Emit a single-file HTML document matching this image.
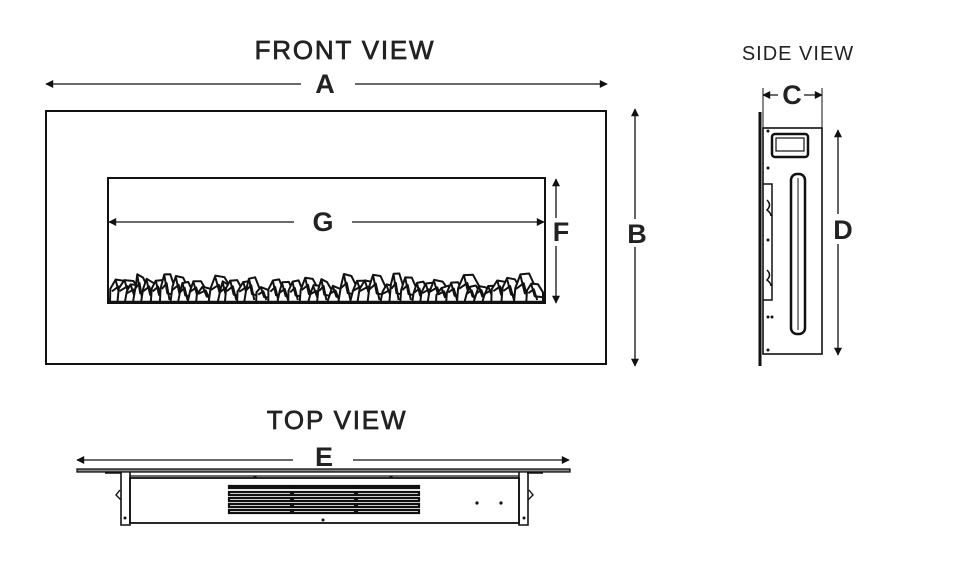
<!DOCTYPE html>
<html><head><meta charset="utf-8"><style>
html,body{margin:0;padding:0;background:#fff;}
svg{display:block;}
text{font-family:"Liberation Sans",sans-serif;fill:#222;}
.t{stroke:#222;stroke-width:0.7;}
</style></head><body>
<svg id="s" width="958" height="572" viewBox="0 0 958 572" xmlns="http://www.w3.org/2000/svg">
<defs>
<marker id="ah" viewBox="0 0 10 10" refX="9" refY="5" markerWidth="12" markerHeight="8" orient="auto-start-reverse" markerUnits="userSpaceOnUse"><path d="M0,0 L10,5 L0,10 z" fill="#111"/></marker>
</defs>
<g stroke="#111" fill="none">
<!-- Front view -->
<line x1="46" y1="84" x2="607" y2="84" stroke-width="1.3" marker-start="url(#ah)" marker-end="url(#ah)"/>
<rect x="301" y="70" width="54" height="28" fill="#fff" stroke="none"/>
<rect x="46" y="111" width="560" height="253" stroke-width="2"/>
<rect x="108" y="178" width="437" height="125" stroke-width="2"/>
<line x1="109" y1="222" x2="544" y2="222" stroke-width="1.3" marker-start="url(#ah)" marker-end="url(#ah)"/>
<rect x="294" y="208" width="58" height="28" fill="#fff" stroke="none"/>
<line x1="556" y1="179" x2="556" y2="303" stroke-width="1.3" marker-start="url(#ah)" marker-end="url(#ah)"/>
<rect x="548" y="218" width="18" height="28" fill="#fff" stroke="none"/>
<line x1="635" y1="109" x2="635" y2="366" stroke-width="1.3" marker-start="url(#ah)" marker-end="url(#ah)"/>
<rect x="625" y="219" width="22" height="28" fill="#fff" stroke="none"/>
<g id="rocks" stroke-width="2" stroke-linejoin="round"></g>
<line x1="108" y1="302" x2="545" y2="302" stroke-width="2.5"/>

<!-- Side view -->
<line x1="763" y1="95" x2="822" y2="95" stroke-width="1.3" marker-start="url(#ah)" marker-end="url(#ah)"/>
<rect x="778" y="82" width="26" height="26" fill="#fff" stroke="none"/>
<line x1="763" y1="88" x2="763" y2="128" stroke-width="1"/>
<line x1="822" y1="88" x2="822" y2="128" stroke-width="1"/>
<line x1="760" y1="112" x2="760" y2="366" stroke-width="3"/>
<rect x="763" y="128" width="59" height="226" stroke-width="1.6"/>
<rect x="772" y="134" width="36" height="23" rx="3" stroke-width="2.5"/>
<rect x="776" y="138" width="28" height="13" stroke-width="1.2"/>
<rect x="791" y="174" width="14" height="160" rx="6" stroke-width="2.5"/>
<line x1="798" y1="178" x2="798" y2="330" stroke-width="1"/>
<path d="M763 184 L772 184 L772 300 L763 300" stroke-width="1.5"/>
<path d="M767 200 q5 5 0 10 q4 3 4 6" stroke-width="1.5"/>
<path d="M767 270 q5 5 0 10 q4 3 4 6" stroke-width="1.5"/>
<line x1="838" y1="130" x2="838" y2="355" stroke-width="1.3" marker-start="url(#ah)" marker-end="url(#ah)"/>
<rect x="828" y="214" width="22" height="30" fill="#fff" stroke="none"/>

<!-- Top view -->
<line x1="77" y1="460" x2="569" y2="460" stroke-width="1.3" marker-start="url(#ah)" marker-end="url(#ah)"/>
<rect x="293" y="446" width="60" height="28" fill="#fff" stroke="none"/>
<rect x="77" y="469" width="493" height="3" fill="#888" stroke-width="1.3"/>
<line x1="105" y1="473" x2="121" y2="473" stroke-width="1.5"/>
<line x1="527" y1="473" x2="543" y2="473" stroke-width="1.5"/>
<path d="M121 472 L121 525 L130 525 L130 472" stroke-width="1.6"/>
<path d="M519 472 L519 525 L528 525 L528 472" stroke-width="1.6"/>
<path d="M121 500 l-5 -5 l4 -5" stroke-width="1.4"/>
<path d="M528 500 l5 -5 l-4 -5" stroke-width="1.4"/>
<rect x="130" y="478" width="389" height="45" stroke-width="1.8"/>
<line x1="130" y1="476" x2="519" y2="476" stroke-width="1.2"/>
<g stroke-width="2.2">
<rect x="229" y="486" width="62" height="2"/><rect x="293" y="486" width="62" height="2"/><rect x="357" y="486" width="62" height="2"/>
<rect x="229" y="492" width="62" height="3"/><rect x="293" y="492" width="62" height="3"/><rect x="357" y="492" width="62" height="3"/>
<rect x="229" y="498" width="62" height="3"/><rect x="293" y="498" width="62" height="3"/><rect x="357" y="498" width="62" height="3"/>
<rect x="229" y="504" width="62" height="3"/><rect x="293" y="504" width="62" height="3"/><rect x="357" y="504" width="62" height="3"/>
<rect x="229" y="510" width="62" height="3"/><rect x="293" y="510" width="62" height="3"/><rect x="357" y="510" width="62" height="3"/>
</g>
</g>
<g fill="#111">
<circle cx="477" cy="503" r="1.6"/><circle cx="501" cy="503" r="1.6"/><circle cx="323" cy="520" r="1.5"/>
<circle cx="255" cy="477" r="1.5"/><circle cx="391" cy="477" r="1.5"/><circle cx="125" cy="518" r="1.5"/><circle cx="524" cy="518" r="1.5"/>
<circle cx="768" cy="168" r="1.5"/><circle cx="768" cy="240" r="1.5"/><circle cx="768" cy="317" r="1.5"/><circle cx="772" cy="317" r="1.5"/><circle cx="768" cy="350" r="1.5"/><circle cx="768" cy="131" r="1.5"/>
</g>
<text class="t" x="345" y="59" font-size="26" text-anchor="middle" letter-spacing="1.8">FRONT VIEW</text>
<text x="325" y="93" font-size="27" text-anchor="middle" font-weight="bold">A</text>
<text x="323" y="231" font-size="27" text-anchor="middle" font-weight="bold">G</text>
<text x="561" y="241" font-size="27" text-anchor="middle" font-weight="bold">F</text>
<text x="637" y="243" font-size="27" text-anchor="middle" font-weight="bold">B</text>
<text x="798" y="60" font-size="20" text-anchor="middle" letter-spacing="1">SIDE VIEW</text>
<text x="792" y="104" font-size="27" text-anchor="middle" font-weight="bold">C</text>
<text x="843" y="239" font-size="27" text-anchor="middle" font-weight="bold">D</text>
<text class="t" x="337" y="429" font-size="26" text-anchor="middle" letter-spacing="1.8">TOP VIEW</text>
<text x="324" y="466" font-size="27" text-anchor="middle" font-weight="bold">E</text>
</svg>
<script>
(function(){
var g=document.getElementById('rocks');var seed=7;
function r(){seed=(seed*9301+49297)%233280;return seed/233280;}
var out='';
for(var x=110;x<538;x+=7+r()*6){
  var w=14+r()*10, h=16+r()*14;
  if(x+w>543) w=543-x;
  var top=302-h, pts=[];
  pts.push([x,302]);
  pts.push([x+r()*3,top+h*0.4+r()*4]);
  pts.push([x+w*0.3,top+r()*3]);
  pts.push([x+w*0.7,top+r()*5]);
  pts.push([x+w,top+h*0.5]);
  pts.push([x+w,302]);
  out+='<polygon points="'+pts.map(function(p){return p[0].toFixed(1)+','+p[1].toFixed(1)}).join(' ')+'" fill="#fff"/>';
  out+='<polyline points="'+(x+2).toFixed(1)+','+(top+h*0.55).toFixed(1)+' '+(x+w*0.45).toFixed(1)+','+(top+h*0.35).toFixed(1)+' '+(x+w*0.65).toFixed(1)+','+(302-2)+'"/>';
  out+='<polyline points="'+(x+w*0.3).toFixed(1)+','+(top+2).toFixed(1)+' '+(x+w*0.5).toFixed(1)+','+(top+h*0.7).toFixed(1)+' '+(x+w-1).toFixed(1)+','+(top+h*0.75).toFixed(1)+'"/>';
}
g.innerHTML=out;
})();
</script>
</body></html>
